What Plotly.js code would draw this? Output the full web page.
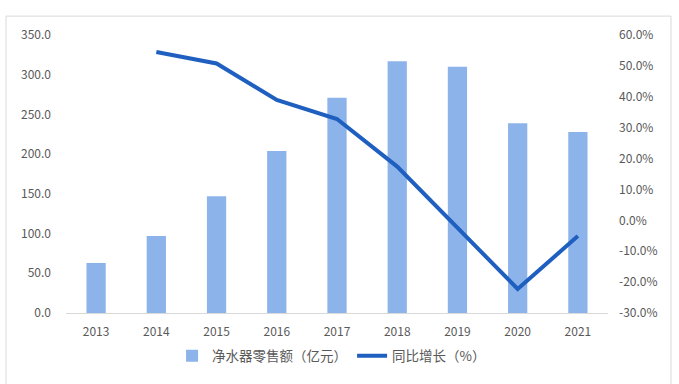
<!DOCTYPE html>
<html>
<head>
<meta charset="utf-8">
<script src="https://cdn.plot.ly/plotly-3.0.1.min.js"></script>
<style>html,body{margin:0;padding:0;background:#fff;}#chart{width:679px;height:384px;}</style>
</head>
<body>
<div id="chart"></div>
<script>
const years = ['2013','2014','2015','2016','2017','2018','2019','2020','2021'];
const retailSales = [63, 97, 147, 204, 271, 317, 310, 239, 228];
const growthYears = ['2014','2015','2016','2017','2018','2019','2020','2021'];
const growthPct = [54.5, 50.8, 39.0, 32.8, 17.4, -2.6, -22.2, -5.1];
const leftTicks = [0, 50, 100, 150, 200, 250, 300, 350];
const leftTickText = ['0.0','50.0','100.0','150.0','200.0','250.0','300.0','350.0'];
const rightTicks = [-30, -20, -10, 0, 10, 20, 30, 40, 50, 60];
const rightTickText = ['-30.0%','-20.0%','-10.0%','0.0%','10.0%','20.0%','30.0%','40.0%','50.0%','60.0%'];
const barName = '净水器零售额（亿元）';
const lineName = '同比增长（%）';

const font = {family: '"Noto Sans CJK SC", "Noto Sans", sans-serif', size: 12, color: '#595959'};
const legendFont = {family: '"Noto Sans CJK SC", "Noto Sans", sans-serif', size: 13.5, color: '#595959'};

const data = [
  {type: 'bar', x: years, y: retailSales, name: barName, marker: {color: '#8DB4EA'}, width: 0.32, yaxis: 'y'},
  {type: 'scatter', mode: 'lines', x: growthYears, y: growthPct, name: lineName, yaxis: 'y2',
   line: {color: '#1F5FC0', width: 4}}
];

const layout = {
  width: 679, height: 384,
  margin: {l: 66, r: 71, t: 35, b: 71},
  paper_bgcolor: '#fff', plot_bgcolor: '#fff',
  font: font,
  showlegend: true,
  legend: {orientation: 'h', x: 0.49, xanchor: 'center', y: -0.155, yanchor: 'middle', font: legendFont, itemwidth: 30, traceorder: 'normal'},
  xaxis: {type: 'category', categoryorder: 'array', categoryarray: years, showgrid: false, zeroline: false,
    showline: true, linecolor: '#D9D9D9', linewidth: 1, ticks: '', tickfont: font, ticklabelstandoff: 8},
  yaxis: {range: [0, 350], tickvals: leftTicks, ticktext: leftTickText, showgrid: false, zeroline: false,
    showline: false, ticks: '', tickfont: font, ticklabelstandoff: 14},
  yaxis2: {range: [-30, 60], tickvals: rightTicks, ticktext: rightTickText, overlaying: 'y', side: 'right',
    showgrid: false, zeroline: false, showline: false, ticks: '', tickfont: font, ticklabelstandoff: 10},
  shapes: [
    {type: 'rect', xref: 'paper', yref: 'paper', x0: -0.1107, x1: 1.1162, y0: 1.068, y1: -0.5,
     line: {color: '#D9D9D9', width: 1}, fillcolor: 'rgba(0,0,0,0)', layer: 'below'}
  ]
};

Plotly.newPlot('chart', data, layout, {displayModeBar: false, staticPlot: true});
</script>
</body>
</html>
